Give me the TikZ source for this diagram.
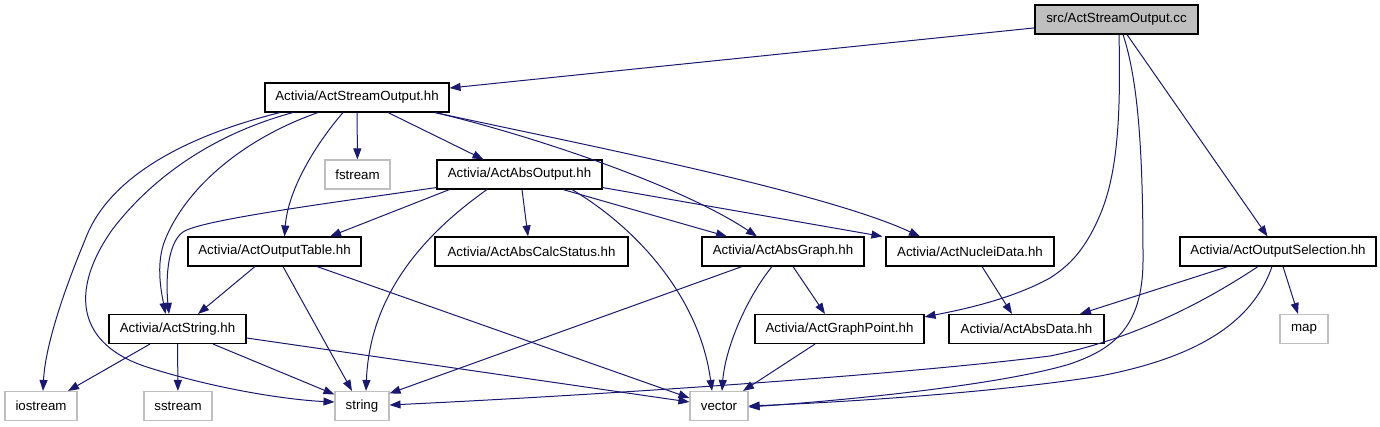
\documentclass[tikz,border=0pt]{standalone}
\usepackage{fontspec}
\setmainfont{Liberation Sans}
\usepackage{tikz}
\usetikzlibrary{arrows.meta}
\definecolor{edgeblue}{HTML}{191970}
\definecolor{sysgray}{HTML}{BFBFBF}
\definecolor{srcfill}{HTML}{BFBFBF}

\tikzset{
  hdr/.style={draw=black, line width=1.1pt, fill=white, minimum height=29pt, inner sep=0pt,
    font=\fontsize{13.3}{16}\selectfont},
  sysinc/.style={hdr, draw=sysgray},
  dep/.style={edgeblue, line width=1pt, -{Triangle[length=11pt, width=8pt]}}
}

\begin{document}
\begin{tikzpicture}[x=1pt, y=-1pt]

  \useasboundingbox (0,0) rectangle (1380,427);

  % Source file (top)
  \node[hdr, fill=srcfill, minimum width=163pt] (cc) at (1116.5,19.5) {src/ActStreamOutput.cc};

  % Project headers: name / x / y / width / file
  \foreach \id/\cx/\cy/\w/\file in {
    so/357/97.5/184/ActStreamOutput.hh,
    ao/519.5/174.5/165/ActAbsOutput.hh,
    ot/274.5/251.5/173/ActOutputTable.hh,
    acs/531.5/251.5/193/ActAbsCalcStatus.hh,
    ag/783/251.5/162/ActAbsGraph.hh,
    nd/970/251.5/168/ActNucleiData.hh,
    os/1278/251.5/196/ActOutputSelection.hh,
    str/177.5/329/137/ActString.hh,
    gp/839.5/329/169/ActGraphPoint.hh,
    ad/1026.5/329/155/ActAbsData.hh
  } {
    \node[hdr, minimum width=\w pt] (\id) at (\cx,\cy) {Activia/\file};
  }

  % System headers
  \foreach \id/\cx/\cy/\w in {
    fstream/357.5/174.5/65,
    map/1304/329/48,
    iostream/41/406/72,
    sstream/178/406/68,
    string/362/406/54,
    vector/719/406/58
  } {
    \node[sysinc, minimum width=\w pt] (\id) at (\cx,\cy) {\id};
  }

  % Includes of src/ActStreamOutput.cc
  \draw[dep] (cc) -- (so);
  \draw[dep] ([xshift=2.5pt]cc.south) .. controls (1121,120) and (1117,175) .. (1100,215)
    .. controls (1085,250) and (1070,265) .. (1050,278)
    .. controls (1010,300) and (960,310) .. ([yshift=-3pt]gp.north east);
  \draw[dep] ([xshift=6.5pt]cc.south) .. controls (1138,80) and (1143,150) .. (1143,260)
    .. controls (1143,330) and (1110,350) .. (1070,364)
    .. controls (1000,385) and (850,400) .. ([yshift=-1pt]vector.east);
  \draw[dep] (cc) -- (os);

  % Includes of ActStreamOutput.hh
  \draw[dep] ([xshift=-77pt]so.south) .. controls (170,140) and (105,185) .. (85,240)
    .. controls (60,300) and (45,350) .. ([xshift=2pt]iostream.north);
  \draw[dep] ([xshift=-64pt]so.south) .. controls (210,135) and (150,180) .. (112,230)
    .. controls (70,290) and (75,345) .. (150,368)
    .. controls (220,390) and (290,400) .. ([yshift=4pt]string.west);
  \draw[dep] ([xshift=-39pt]so.south) .. controls (240,140) and (185,190) .. (165,240)
    .. controls (155,265) and (162,295) .. ([xshift=-12pt]str.north);
  \draw[dep] ([xshift=-14pt]so.south) .. controls (315,145) and (288,190) .. ([xshift=10pt]ot.north);
  \draw[dep] (so) -- (fstream);
  \draw[dep] ([xshift=31pt]so.south) -- ([xshift=-36pt]ao.north);
  \draw[dep] ([xshift=78pt]so.south) .. controls (530,135) and (680,185) .. ([xshift=-26pt]ag.north);
  \draw[dep] ([xshift=78pt]so.south) .. controls (560,140) and (820,190) .. ([xshift=-50pt]nd.north);

  % Includes of ActAbsOutput.hh
  \draw[dep] ([yshift=2pt]ao.south west) .. controls (330,203) and (200,220) .. (183,232)
    .. controls (166,244) and (166,285) .. ([xshift=-8.5pt]str.north);
  \draw[dep] ([xshift=13pt]ao.south west) -- ([xshift=55.5pt]ot.north);
  \draw[dep] ([xshift=-32.5pt]ao.south) .. controls (430,230) and (370,290) .. ([xshift=4pt]string.north);
  \draw[dep] ([xshift=2.5pt]ao.south) -- ([xshift=-3.5pt]acs.north);
  \draw[dep] ([xshift=52.5pt]ao.south) .. controls (640,230) and (700,300) .. ([xshift=-7pt]vector.north);
  \draw[dep] ([xshift=43.5pt]ao.south) -- ([xshift=-56pt]ag.north);
  \draw[dep] ([yshift=2pt]ao.south east) -- ([xshift=-3pt]nd.north west);

  % Includes of ActOutputTable.hh and ActString.hh
  \draw[dep] ([xshift=-19.5pt]ot.south) -- ([xshift=20.5pt]str.north);
  \draw[dep] ([xshift=8.5pt]ot.south) -- ([xshift=-10pt]string.north);
  \draw[dep] ([xshift=42.5pt]ot.south) -- ([yshift=8pt]vector.west);
  \draw[dep] ([xshift=-27.5pt]str.south) -- ([xshift=27pt]iostream.north);
  \draw[dep] (str) -- (sstream);
  \draw[dep] ([xshift=35.5pt]str.south) -- ([yshift=-3.5pt]string.north west);
  \draw[dep] ([yshift=-9pt]str.east) -- ([yshift=4pt]vector.west);

  % Includes of ActAbsGraph.hh, ActGraphPoint.hh, ActNucleiData.hh
  \draw[dep] ([xshift=-41pt]ag.south) -- ([yshift=-2.5pt]string.north east);
  \draw[dep] ([xshift=-11pt]ag.south) .. controls (745,300) and (725,350) .. ([xshift=3pt]vector.north);
  \draw[dep] ([xshift=10pt]ag.south) -- ([xshift=-14.5pt]gp.north);
  \draw[dep] ([xshift=-24.5pt]gp.south) -- ([xshift=24pt]vector.north);
  \draw[dep] ([xshift=12pt]nd.south) -- ([xshift=-14.5pt]ad.north);

  % Includes of ActOutputSelection.hh
  \draw[dep] ([xshift=-50pt]os.south) -- ([xshift=53.5pt]ad.north);
  \draw[dep] ([xshift=-20pt]os.south) .. controls (1200,305) and (1130,340) .. (1050,356)
    .. controls (900,375) and (600,395) .. ([yshift=1pt]string.east);
  \draw[dep] ([xshift=-6pt]os.south) .. controls (1255,315) and (1210,355) .. (1100,376)
    .. controls (1000,392) and (850,402) .. (vector.east);
  \draw[dep] ([xshift=5pt]os.south) -- ([xshift=-6pt]map.north);

\end{tikzpicture}
\end{document}
